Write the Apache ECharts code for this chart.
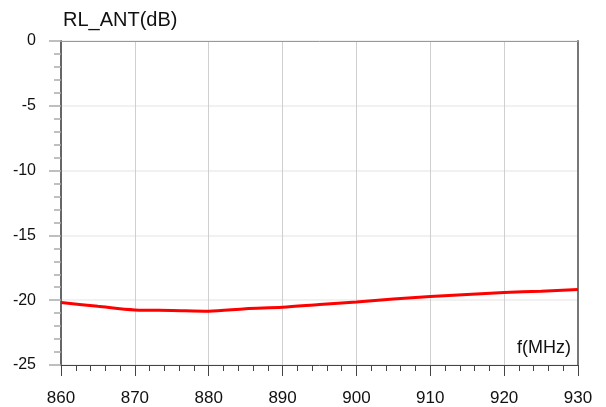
<!DOCTYPE html>
<html>
<head>
<meta charset="utf-8">
<script src="https://cdn.jsdelivr.net/npm/echarts@6/dist/echarts.min.js"></script>
<style>
  html, body { margin: 0; padding: 0; background: #fff; }
  #chart { width: 606px; height: 407px; }
</style>
</head>
<body>
<div id="chart"></div>
<script>
// Return loss of the antenna port across the band
const freqMHz = [860, 865, 870, 875, 880, 885, 890, 895, 900, 905, 910, 915, 920, 925, 930];
const rlAntDb = [-20.18, -20.47, -20.75, -20.79, -20.85, -20.66, -20.55, -20.33, -20.13, -19.90, -19.72, -19.56, -19.41, -19.30, -19.18];

const xTicks = [860, 870, 880, 890, 900, 910, 920, 930];
const yTicks = [-25, -20, -15, -10, -5, 0];

const titleText = 'RL_ANT(dB)';
const xUnitText = 'f(MHz)';

const FONT = 'Liberation Sans, Arial, sans-serif';

const chart = echarts.init(document.getElementById('chart'), null, { renderer: 'canvas' });

const xMin = xTicks[0], xMax = xTicks[xTicks.length - 1];
const yMin = yTicks[0], yMax = yTicks[yTicks.length - 1];

chart.setOption({
  animation: false,
  backgroundColor: '#ffffff',
  title: {
    text: titleText,
    left: 58,
    top: 5,
    textStyle: { fontFamily: FONT, fontSize: 20, fontWeight: 'normal', color: '#111' }
  },
  grid: { left: 61, right: 28, top: 41, bottom: 41, containLabel: false },
  xAxis: [
    {
      type: 'value',
      position: 'bottom',
      min: xMin, max: xMax, interval: 10,
      name: xUnitText,
      nameLocation: 'end',
      nameGap: 0,
      nameTextStyle: {
        fontFamily: FONT, fontSize: 18, color: '#111',
        align: 'right', verticalAlign: 'bottom',
        padding: [0, 7, 8, 0]
      },
      axisLine: { show: true, onZero: false, lineStyle: { color: '#444', width: 1 } },
      axisTick: { show: true, inside: false, length: 11, lineStyle: { color: '#444', width: 1 } },
      minorTick: { show: true, splitNumber: 5, length: 6, lineStyle: { color: '#444', width: 1 } },
      axisLabel: { fontFamily: FONT, fontSize: 17, color: '#111', margin: 25 },
      splitLine: { show: true, lineStyle: { color: '#cfcfcf', width: 1 } }
    },
    {
      type: 'value',
      position: 'top',
      min: xMin, max: xMax, interval: 10,
      axisLine: { show: true, onZero: false, lineStyle: { color: '#999', width: 1 } },
      axisTick: { show: false },
      axisLabel: { show: false },
      splitLine: { show: false }
    }
  ],
  yAxis: [
    {
      type: 'value',
      position: 'left',
      min: yMin, max: yMax, interval: 5,
      axisLine: { show: true, onZero: false, lineStyle: { color: '#666', width: 2 } },
      axisTick: { show: true, inside: false, length: 12, lineStyle: { color: '#aaa', width: 1.5 } },
      minorTick: { show: true, splitNumber: 5, length: 7, lineStyle: { color: '#aaa', width: 1.5 } },
      axisLabel: {
        fontFamily: FONT, fontSize: 16, color: '#111', margin: 25,
        padding: [0, 0, 6, 0]
      },
      splitLine: { show: true, lineStyle: { color: '#ececec', width: 1.5 } }
    },
    {
      type: 'value',
      position: 'right',
      min: yMin, max: yMax, interval: 5,
      axisLine: { show: true, onZero: false, lineStyle: { color: '#777', width: 2 } },
      axisTick: { show: false },
      axisLabel: { show: false },
      splitLine: { show: false }
    }
  ],
  series: [
    {
      type: 'line',
      xAxisIndex: 0,
      yAxisIndex: 0,
      data: freqMHz.map((f, i) => [f, rlAntDb[i]]),
      showSymbol: false,
      smooth: 0.3,
      lineStyle: { color: '#ff0000', width: 3 },
      z: 5
    }
  ]
});
</script>
</body>
</html>
